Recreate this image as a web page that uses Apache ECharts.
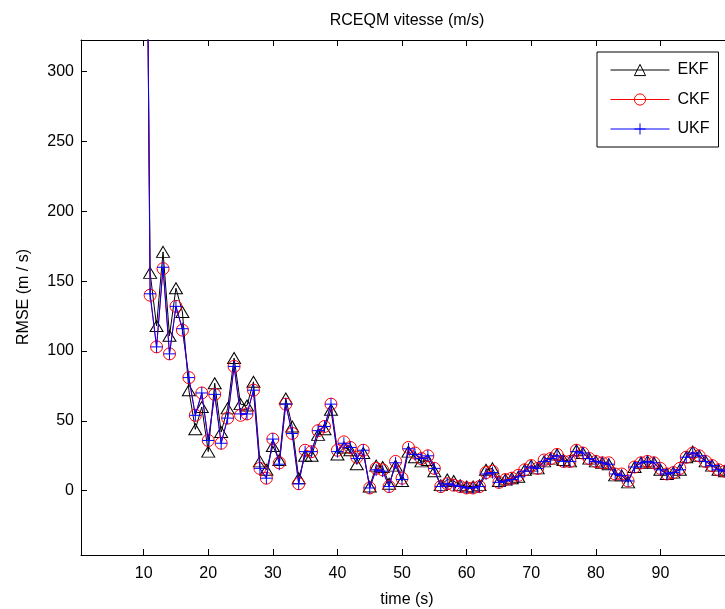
<!DOCTYPE html>
<html>
<head>
<meta charset="utf-8">
<script src="https://cdn.jsdelivr.net/npm/echarts@6/dist/echarts.min.js"></script>
<style>html,body{margin:0;padding:0;background:#fff}#c{width:725px;height:609px}</style>
</head>
<body>
<div id="c"></div>
<script>
// time (s)
const time = [10,11,12,13,14,15,16,17,18,19,20,21,22,23,24,25,26,27,28,29,30,31,32,33,34,35,36,37,38,39,40,41,42,43,44,45,46,47,48,49,50,51,52,53,54,55,56,57,58,59,60,61,62,63,64,65,66,67,68,69,70,71,72,73,74,75,76,77,78,79,80,81,82,83,84,85,86,87,88,89,90,91,92,93,94,95,96,97,98,99,100];
const ekf = [700,156,118,171,111,145,128,72,44,60,28,77,42,59,95,62,61,78,21,15,32,22,66,46,9,25,25,40,44,58,26,31,29,19,27,3,18,17,5,18,7,28,24,21,22,14,4,8,7,4,3,3,4,15,16,7,8,9,10,15,18,16,21,23,26,22,21,29,27,23,21,20,19,11,11,6,17,20,21,20,15,12,13,15,24,28,25,21,18,15,14];
const ckf = [720,140,103,159,98,132,115,81,54,70,36,69,34,52,89,54,55,72,16,9,37,20,62,41,5,29,28,43,46,62,29,35,31,24,29,2,16,15,3,21,9,31,27,23,25,16,3,5,4,3,2,2,3,13,14,6,8,9,11,15,18,16,22,23,26,21,21,29,27,23,21,20,20,12,12,7,17,20,21,20,16,12,13,16,24,27,25,21,18,15,14];
const ukf = [720,141,103,160,98,132,116,81,54,70,36,69,34,52,89,55,55,72,16,9,37,19,62,41,5,28,28,43,46,62,28,34,31,23,29,2,15,14,3,20,8,30,26,23,25,16,3,5,4,3,2,2,3,12,13,6,7,8,10,14,17,16,21,23,25,21,21,28,27,23,21,20,19,12,11,7,17,20,21,20,15,12,13,15,24,27,25,21,18,15,14];
const xTicks = [10,20,30,40,50,60,70,80,90];
const yTicks = [0,50,100,150,200,250,300];
const names = ['EKF','CKF','UKF'];

const FONT = 'Liberation Sans, Arial, Helvetica, sans-serif';
const FS = 16;
function pairs(v){ return time.map((t,i)=>[t,v[i]]); }

const chart = echarts.init(document.getElementById('c'), null, {renderer:'canvas'});
const axisCommon = {
  type:'value', min:0.3, max:100,
  axisLine:{show:true, onZero:false, lineStyle:{color:'#000', width:1}},
  axisTick:{show:true, inside:true, length:6, customValues:xTicks, lineStyle:{color:'#000'}},
  splitLine:{show:false}
};
chart.setOption({
  animation:false,
  backgroundColor:'#fff',
  grid:{left:81, top:40, width:653, height:515, containLabel:false},
  xAxis:[
    Object.assign({}, axisCommon, {position:'bottom',
      axisLabel:{show:true, customValues:xTicks, margin:11, color:'#000', fontSize:FS, fontFamily:FONT}}),
    Object.assign({}, axisCommon, {position:'top', axisLabel:{show:false}})
  ],
  yAxis:[{
    type:'value', min:-46, max:322.7,
    axisLine:{show:true, onZero:false, lineStyle:{color:'#000', width:1}},
    axisTick:{show:true, inside:true, length:6, customValues:yTicks, lineStyle:{color:'#000'}},
    axisLabel:{show:true, customValues:yTicks, margin:7, color:'#000', fontSize:FS, fontFamily:FONT},
    splitLine:{show:false}
  }],
  legend:{
    orient:'vertical', left:597, top:52,
    data:names,
    backgroundColor:'#fff', borderColor:'#000', borderWidth:1,
    padding:[10,9,10,13], itemWidth:59, itemHeight:14, itemGap:13.5,
    lineStyle:{width:1},
    itemStyle:{borderWidth:1},
    textStyle:{color:'#000', fontSize:FS, fontFamily:FONT, padding:[0,0,0,3]}
  },
  graphic:[
    {type:'text', x:407, y:21, style:{text:'RCEQM vitesse (m/s)', fill:'#000', font:FS+'px '+FONT, textAlign:'center', textVerticalAlign:'middle'}},
    {type:'text', x:407, y:600, style:{text:'time (s)', fill:'#000', font:FS+'px '+FONT, textAlign:'center', textVerticalAlign:'middle'}},
    {type:'text', x:24, y:297, rotation:Math.PI/2, style:{text:'RMSE (m / s)', fill:'#000', font:FS+'px '+FONT, textAlign:'center', textVerticalAlign:'middle'}}
  ],
  series:[
    {name:'EKF', type:'line', data:pairs(ekf), symbol:'triangle', symbolSize:[13,11], showAllSymbol:true,
     lineStyle:{color:'#000', width:1}, itemStyle:{color:'rgba(0,0,0,0)', borderColor:'#000', borderWidth:1}, clip:true, z:2},
    {name:'CKF', type:'line', data:pairs(ckf), symbol:'circle', symbolSize:12, showAllSymbol:true,
     lineStyle:{color:'#ff0000', width:1}, itemStyle:{color:'rgba(0,0,0,0)', borderColor:'#ff0000', borderWidth:1}, clip:true, z:3},
    {name:'UKF', type:'line', data:pairs(ukf), symbol:'path://M5,0L5,10M0,5L10,5', symbolSize:12, showAllSymbol:true,
     lineStyle:{color:'#0000ff', width:1}, itemStyle:{color:'rgba(0,0,0,0)', borderColor:'#0000ff', borderWidth:1}, clip:true, z:4}
  ]
});
</script>
</body>
</html>
